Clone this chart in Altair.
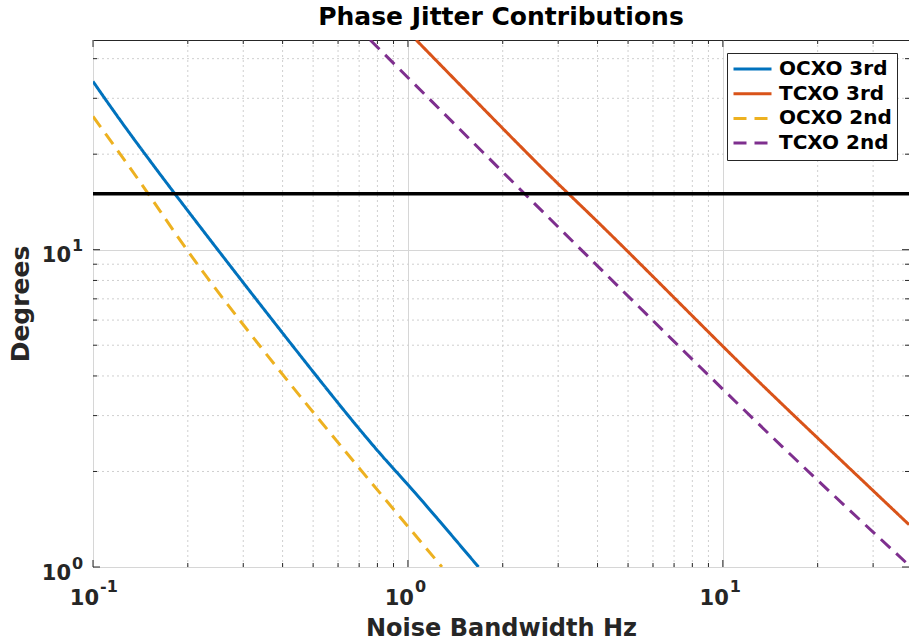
import altair as alt
import pandas as pd

# ---------------- data ----------------
series_names = ["OCXO 3rd", "TCXO 3rd", "OCXO 2nd", "TCXO 2nd"]
series_colors = ["#0072BD", "#D95319", "#EDB120", "#7E2F8E"]
series_dash = [[1, 0], [1, 0], [13, 8], [13, 8]]

ocxo3_bw = [0.1, 0.182, 0.588, 1.0, 1.675]
ocxo3_deg = [33.9, 15.0, 3.37, 1.817, 1.0]

tcxo3_bw = [1.062, 2.273, 3.236, 4.9, 10.0, 17.6, 39.0]
tcxo3_deg = [45.8, 21.2, 15.0, 10.05, 4.96, 2.876, 1.36]

ocxo2_bw = [0.1, 0.1498, 0.219, 0.455, 1.282]
ocxo2_deg = [26.3, 15.0, 8.75, 3.45, 1.0]

tcxo2_bw = [0.759, 2.164, 5.74, 15.4, 38.8]
tcxo2_deg = [45.8, 16.26, 6.24, 2.40, 1.017]

threshold_deg = 15

x_domain = [0.1, 39]
y_domain = [1, 45.8]
tick_base = "10"
x_major = [0.1, 1, 10]
x_major_exp = ["-1", "0", "1"]
x_minor = [0.2, 0.3, 0.4, 0.5, 0.6, 0.7, 0.8, 0.9,
           2, 3, 4, 5, 6, 7, 8, 9, 20, 30]
y_major = [1, 10]
y_major_exp = ["0", "1"]
y_minor = [2, 3, 4, 5, 6, 7, 8, 9, 20, 30, 40]

# ---------------- tables ----------------
rows = []
for name, xs, ys in [
    ("OCXO 3rd", ocxo3_bw, ocxo3_deg),
    ("TCXO 3rd", tcxo3_bw, tcxo3_deg),
    ("OCXO 2nd", ocxo2_bw, ocxo2_deg),
    ("TCXO 2nd", tcxo2_bw, tcxo2_deg),
]:
    for i, (xv, yv) in enumerate(zip(xs, ys)):
        rows.append({"series": name, "bw": xv, "deg": yv, "i": i})
lines_df = pd.DataFrame(rows)

xmaj_df = pd.DataFrame({"v": x_major, "e": x_major_exp})
xmin_df = pd.DataFrame({"v": x_minor})
ymaj_df = pd.DataFrame({"v": y_major, "e": y_major_exp})
ymin_df = pd.DataFrame({"v": y_minor})

W, H = 816, 527
FONT = "DejaVu Sans"
AX = "#262626"

xscale = alt.Scale(type="log", domain=x_domain, nice=False)
yscale = alt.Scale(type="log", domain=y_domain, nice=False)

x_title = "Noise Bandwidth Hz"
y_title = "Degrees"

x_axis = alt.Axis(
    values=x_major, labels=False,
    grid=True, gridColor="#d6d6d6", gridWidth=1, ticks=False, domain=False,
    titleFont=FONT, titleFontWeight="bold", titleFontSize=24,
    titleColor=AX, titlePadding=49,
)
y_axis = alt.Axis(
    values=y_major, labels=False,
    grid=True, gridColor="#d6d6d6", gridWidth=1, ticks=False, domain=False,
    titleFont=FONT, titleFontWeight="bold", titleFontSize=25,
    titleColor=AX, titlePadding=60,
)


def X(field):
    return alt.X(field, scale=xscale, axis=x_axis, title=x_title)


def Y(field):
    return alt.Y(field, scale=yscale, axis=y_axis, title=y_title)


grid_style = dict(color="#cfcfcf", strokeWidth=1, strokeDash=[2, 3])

lines = alt.Chart(lines_df).mark_line(strokeWidth=3, clip=True,
                                      interpolate="natural").encode(
    x=X("bw:Q"),
    y=Y("deg:Q"),
    color=alt.Color("series:N", title=None,
                    scale=alt.Scale(domain=series_names, range=series_colors),
                    sort=series_names),
    strokeDash=alt.StrokeDash("series:N", title=None,
                              scale=alt.Scale(domain=series_names, range=series_dash),
                              sort=series_names),
    order="i:Q",
)

xminor_grid = alt.Chart(xmin_df).mark_rule(**grid_style).encode(x=X("v:Q"))
yminor_grid = alt.Chart(ymin_df).mark_rule(**grid_style).encode(y=Y("v:Q"))

threshold = alt.Chart(pd.DataFrame({"t": [threshold_deg]})).mark_rule(
    color="black", strokeWidth=3.5).encode(y=Y("t:Q"))

tick_style = dict(color=AX, strokeWidth=1)


def xticks(df, length):
    bottom = alt.Chart(df).mark_rule(**tick_style).encode(
        x=X("v:Q"), y=alt.value(H), y2=alt.value(H - length))
    top = alt.Chart(df).mark_rule(**tick_style).encode(
        x=X("v:Q"), y=alt.value(0), y2=alt.value(length))
    return [bottom, top]


def yticks(df, length):
    left = alt.Chart(df).mark_rule(**tick_style).encode(
        y=Y("v:Q"), x=alt.value(0), x2=alt.value(length))
    right = alt.Chart(df).mark_rule(**tick_style).encode(
        y=Y("v:Q"), x=alt.value(W - length), x2=alt.value(W))
    return [left, right]


lab = dict(font=FONT, fontWeight="bold", color=AX, baseline="alphabetic")

x_base = alt.Chart(xmaj_df).mark_text(text=tick_base, align="right", dx=6,
                                      fontSize=21, **lab).encode(
    x=X("v:Q"), y=alt.value(H + 38))
x_exp = alt.Chart(xmaj_df).mark_text(align="left", dx=7, fontSize=16, **lab).encode(
    x=X("v:Q"), y=alt.value(H + 25), text="e:N")
y_base = alt.Chart(ymaj_df).mark_text(text=tick_base, align="right", dy=12.5,
                                      fontSize=21, **lab).encode(
    y=Y("v:Q"), x=alt.value(-22))
y_exp = alt.Chart(ymaj_df).mark_text(align="left", dy=1.5, fontSize=16, **lab).encode(
    y=Y("v:Q"), x=alt.value(-21), text="e:N")

layers = [xminor_grid, yminor_grid, lines, threshold]
layers += xticks(xmaj_df, 7) + xticks(xmin_df, 4)
layers += yticks(ymaj_df, 7) + yticks(ymin_df, 4)
layers += [x_base, x_exp, y_base, y_exp]

chart = alt.layer(*layers).properties(
    width=W, height=H,
    title=alt.Title("Phase Jitter Contributions", font=FONT, fontSize=25,
                    fontWeight="bold", color="black", offset=10),
    autosize=alt.AutoSizeParams(type="none"),
    padding={"left": 93, "top": 40, "right": 0, "bottom": 76},
    background="white",
).configure_view(
    stroke=AX, strokeWidth=1
).configure_legend(
    orient="none", legendX=634, legendY=13,
    fillColor="white", strokeColor=AX, padding=5, cornerRadius=0,
    symbolType="stroke", symbolSize=1444, symbolStrokeWidth=3,
    labelFont=FONT, labelFontWeight="bold", labelFontSize=20,
    labelColor="black", labelOffset=6, rowPadding=2.7, clipHeight=22,
)

chart.save("out.html", embed_options={"renderer": "svg", "actions": False})
